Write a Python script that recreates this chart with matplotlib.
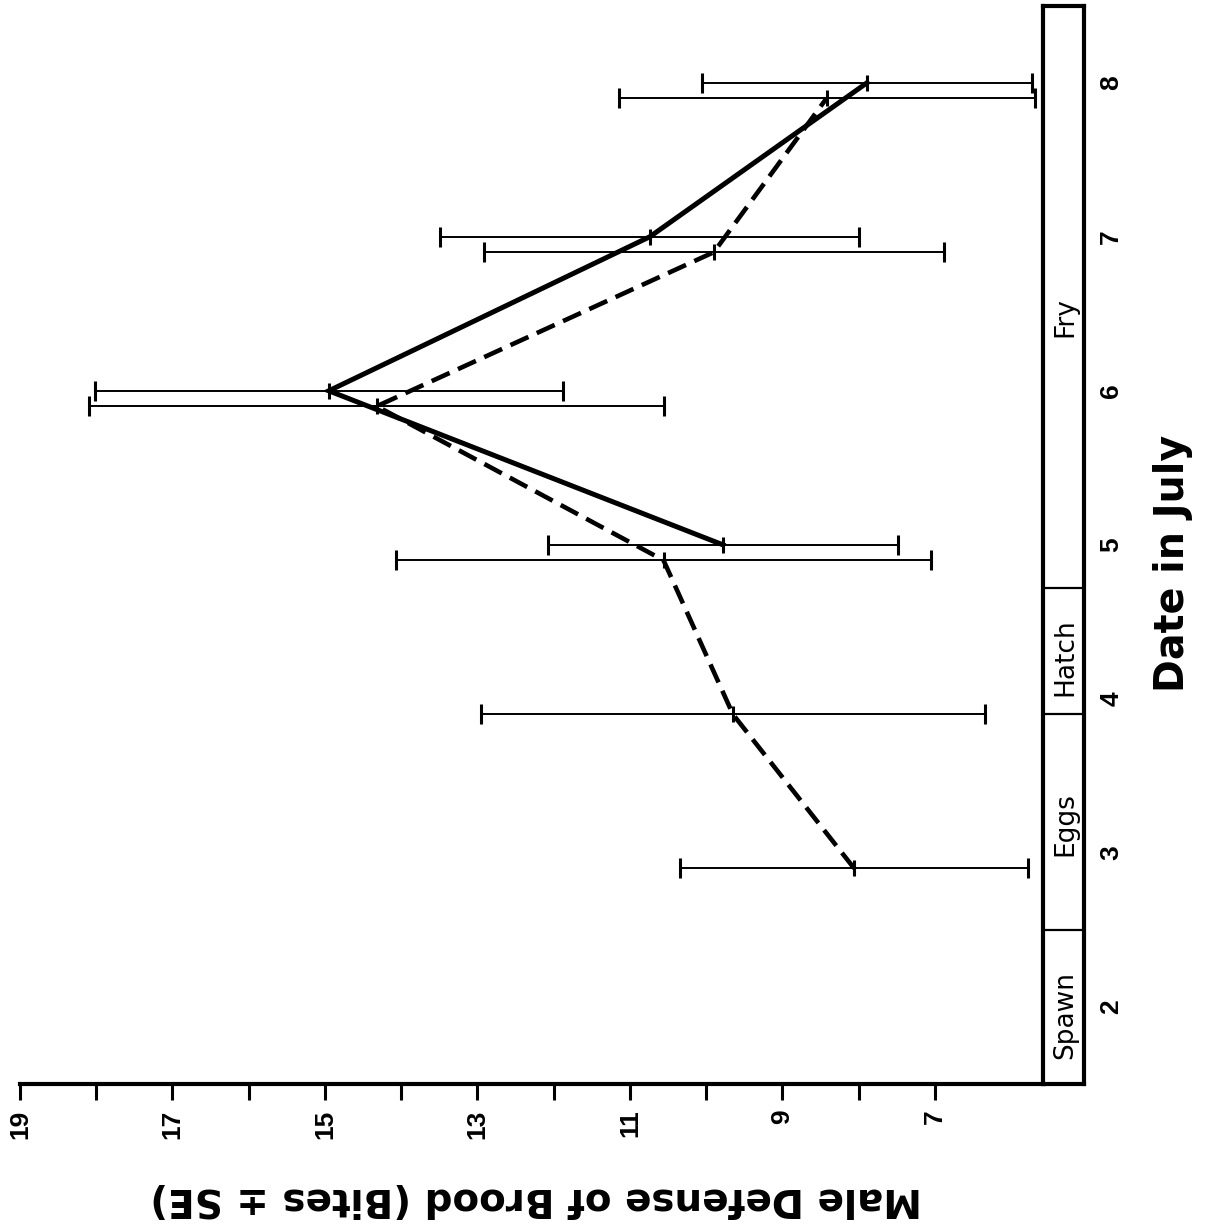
import matplotlib
matplotlib.use("Agg")
import matplotlib.pyplot as plt

# ---------------- data ----------------
dates_solid = [5, 6, 7, 8]
bites_solid = [9.78, 14.95, 10.74, 7.89]
se_solid = [2.29, 3.07, 2.75, 2.16]

dates_dashed = [3, 4, 5, 6, 7, 8]
bites_dashed = [8.06, 9.65, 10.56, 14.32, 9.90, 8.42]
se_dashed = [2.28, 3.30, 3.51, 3.77, 3.02, 2.73]

phase_names = ["Spawn", "Eggs", "Hatch", "Fry"]
phase_edges = [1.5, 2.5, 3.9, 4.72, 8.5]
phase_label_dates = [1.95, 3.19, 4.27, 6.48]

date_ticks = [2, 3, 4, 5, 6, 7, 8]
date_tick_labels = ["2", "3", "4", "5", "6", "7", "8"]
value_major = [7, 9, 11, 13, 15, 17, 19]
value_major_labels = ["7", "9", "11", "13", "15", "17", "19"]
value_minor = [8, 10, 12, 14, 16, 18]

x_label = "Date in July"
y_label = "Male Defense of Brood (Bites \u00b1 SE)"

# ---------------- layout ----------------
W, H = 1212, 1228
fig = plt.figure(figsize=(W / 100, H / 100), dpi=100)
fig.patch.set_facecolor("white")


def fx(px):
    return px / W


def fy(py):
    return 1 - py / H


top_px, bot_px = 5.7, 1084
dash_offset = -0.1

ax = fig.add_axes([fx(20), fy(bot_px), fx(1044) - fx(20), (bot_px - top_px) / H])
ax.set_xlim(19, 5.57)
ax.set_ylim(1.5, 8.5)

dashed_y = [d + dash_offset for d in dates_dashed]

ax.errorbar(bites_solid, dates_solid, xerr=se_solid, fmt="none", ecolor="black",
            elinewidth=1.4, capsize=7, capthick=2.2, clip_on=False, zorder=2)
ax.errorbar(bites_dashed, dashed_y, xerr=se_dashed, fmt="none", ecolor="black",
            elinewidth=1.4, capsize=7, capthick=2.2, clip_on=False, zorder=2)

ax.plot(bites_solid, dates_solid, color="black", lw=3.6, marker="|", ms=11, mew=2.2,
        solid_joinstyle="miter", clip_on=False, zorder=3)
ax.plot(bites_dashed, dashed_y, color="black", lw=3.3, dashes=(4.3, 2.0), marker="|",
        ms=11, mew=2.2, clip_on=False, zorder=3)

for s in ["left", "top", "right"]:
    ax.spines[s].set_visible(False)
ax.spines["bottom"].set_linewidth(3)
ax.set_yticks([])
ax.set_xticks(value_major)
ax.set_xticklabels(value_major_labels)
ax.set_xticks(value_minor, minor=True)
ax.tick_params(axis="x", which="both", direction="out", length=11.5, width=2.2,
               pad=7, labelsize=19, labelrotation=90)
for t in ax.get_xticklabels():
    t.set_fontfamily("Liberation Sans")
    t.set_fontweight("bold")
ax.patch.set_alpha(0)

# ---------------- phase box ----------------
ax2 = fig.add_axes([fx(1043), fy(bot_px), fx(1084) - fx(1043), (bot_px - top_px) / H])
ax2.set_xlim(0, 1)
ax2.set_ylim(1.5, 8.5)
for s in ax2.spines.values():
    s.set_linewidth(3)
for e in phase_edges[1:-1]:
    ax2.axhline(e, color="black", lw=1.6)
for name, d in zip(phase_names, phase_label_dates):
    ax2.text(0.55, d, name, rotation=90, ha="center", va="center", fontsize=19,
             family="DejaVu Sans")
ax2.set_xticks([])
ax2.yaxis.tick_right()
ax2.set_yticks(date_ticks)
ax2.set_yticklabels(date_tick_labels)
ax2.tick_params(axis="y", length=0, pad=11, labelsize=19, labelrotation=90)
for t in ax2.get_yticklabels():
    t.set_va("center")
    t.set_fontfamily("Liberation Sans")
    t.set_fontweight("bold")

# ---------------- axis titles ----------------
fig.text(fx(536), fy(1199), y_label, rotation=180, ha="center", va="center",
         fontsize=28, fontweight="bold", family="DejaVu Sans")
fig.text(fx(1173), fy(563), x_label, rotation=90, ha="center", va="center",
         fontsize=28.5, fontweight="bold", family="DejaVu Sans")

fig.savefig("out.png", dpi=100, facecolor="white")
